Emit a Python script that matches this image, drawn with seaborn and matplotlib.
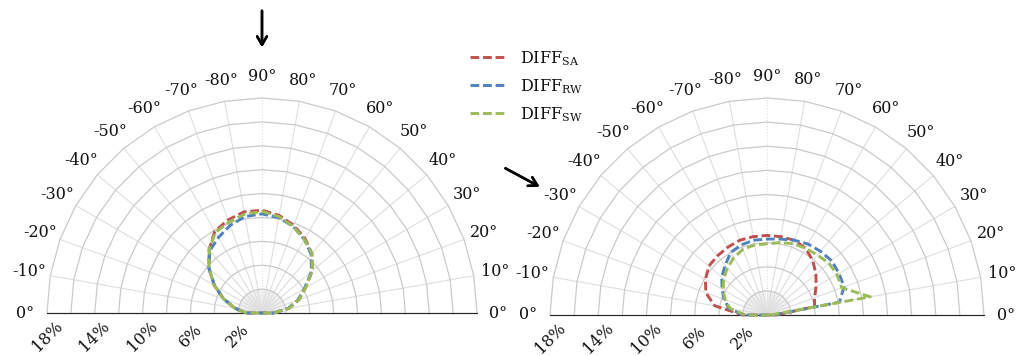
import numpy as np
import pandas as pd
import seaborn as sns
import matplotlib.pyplot as plt

# angle (deg, 0 = right "0°", 180 = left "0°") and percentages
angles = list(range(0, 181, 10))

left_sa = [1.0, 2.3, 3.3, 4.2, 5.5, 6.5, 7.2, 7.8, 8.3, 8.6, 8.6, 8.3, 7.9, 6.9, 5.8, 4.6, 3.4, 2.3, 1.3]
left_rw = [1.0, 2.2, 3.2, 4.1, 5.4, 6.4, 7.1, 7.7, 8.1, 8.3, 8.2, 7.8, 7.3, 6.8, 5.8, 4.6, 3.4, 2.3, 1.3]
left_sw = [1.0, 2.3, 3.3, 4.2, 5.5, 6.5, 7.1, 7.7, 8.2, 8.5, 8.4, 8.1, 7.8, 6.9, 5.8, 4.6, 3.4, 2.3, 1.3]

right_sa = [0.8, 4.0, 4.2, 4.7, 5.3, 5.9, 6.4, 6.6, 6.6, 6.6, 6.6, 6.6, 6.5, 6.4, 6.3, 5.9, 5.4, 4.4, 2.0]
right_rw = [0.5, 6.1, 6.8, 6.9, 7.0, 6.9, 6.8, 6.6, 6.4, 6.3, 6.3, 6.2, 6.0, 5.4, 4.9, 4.3, 3.8, 3.2, 2.0]
right_sw = [0.3, 8.7, 6.6, 6.7, 6.7, 6.5, 6.4, 6.3, 6.1, 5.9, 5.9, 5.8, 5.5, 5.1, 4.7, 4.2, 3.7, 3.1, 1.8]

series_names = ['DIFF$_{\\mathrm{SA}}$', 'DIFF$_{\\mathrm{RW}}$', 'DIFF$_{\\mathrm{SW}}$']
colors = ['#C0504D', '#4F81BD', '#9BBB59']

angle_labels = [f'{a}°' for a in range(0, 90, 10)] + ['90°'] + [f'-{a}°' for a in range(80, 0, -10)] + ['0°']
ring_values = list(range(2, 19, 2))
ring_labels = [2, 6, 10, 14, 18]

sns.set_style('white')
plt.rcParams['font.family'] = ['DejaVu Serif']
plt.rcParams['mathtext.fontset'] = 'dejavuserif'
plt.rcParams['text.color'] = '#111111'

fig = plt.figure(figsize=(10.24, 3.56), dpi=100)
W, H = 1024, 356


def polar_axes(cx, cy_top, R):
    # half-disc wedge sits centred in a square box, so offset by R/2
    cy = H - cy_top
    return fig.add_axes([(cx - R) / W, (cy - R / 2) / H, 2 * R / W, 2 * R / H], projection='polar')


ax1 = polar_axes(262, 313, 215)
ax2 = polar_axes(767, 315, 217)


def setup(ax):
    ax.set_thetamin(0)
    ax.set_thetamax(180)
    ax.grid(False)
    ax.set_xticks([])
    ax.set_yticks([])
    ax.patch.set_alpha(0)
    for sp in ax.spines.values():
        sp.set_visible(False)
    th = np.deg2rad(angles)
    # fine spokes near the centre
    for t in np.arange(0, 180, 3):
        ax.plot([np.deg2rad(t)] * 2, [0, 2], color='#E6E6E6', lw=0.5, zorder=1)
    for t in angles:
        ls = ':' if t == 90 else '-'
        ax.plot([np.deg2rad(t)] * 2, [0, 18], color='#DEDEDE', lw=0.8, ls=ls, zorder=1, clip_on=False)
    for r in ring_values:
        ax.plot(th, [r] * len(th), color='#CACACA', lw=0.9, zorder=1, clip_on=False)
    ax.plot([0, np.pi], [18, 18], color='#CACACA', lw=0.9, zorder=1, clip_on=False)
    for t, lab in zip(angles, angle_labels):
        ax.text(np.deg2rad(t), 19.8, lab, ha='center', va='center', fontsize=11.5)
    for v in ring_labels:
        ax.annotate(f'{v}%', xy=(np.pi, v), xytext=(0, -23), textcoords='offset pixels',
                    rotation=45, ha='center', va='center', fontsize=11.5)


def draw(ax, vals_list):
    rows = []
    for name, vals in zip(series_names, vals_list):
        for a, v in zip(angles + [angles[0]], vals + [vals[0]]):
            rows.append({'theta': np.deg2rad(a), 'r': v, 'series': name})
    df = pd.DataFrame(rows)
    sns.lineplot(data=df, x='theta', y='r', hue='series', palette=colors, ax=ax,
                 sort=False, estimator=None, lw=2.1, linestyle=(0, (3, 1.3)),
                 legend=False, zorder=3, clip_on=False)
    ax.set_xlabel('')
    ax.set_ylabel('')
    ax.set_rlim(0, 18)


setup(ax1)
setup(ax2)
draw(ax1, [left_sa, left_rw, left_sw])
draw(ax2, [right_sa, right_rw, right_sw])

handles = ax1.get_lines()[-3:]
fig.legend(handles, series_names, loc='upper left', bbox_to_anchor=(470 / W, 1 - 49 / H),
           frameon=False, fontsize=11.5, handlelength=2.2, handletextpad=0.9,
           labelspacing=0.58, borderpad=0, borderaxespad=0)

head = '->,head_length=0.6,head_width=0.35'
fig.add_artist(plt.annotate('', xy=(262, H - 50), xycoords='figure pixels',
                            xytext=(262, H - 8), textcoords='figure pixels',
                            arrowprops=dict(arrowstyle=head, lw=1.8, color='black')))
fig.add_artist(plt.annotate('', xy=(542, H - 188), xycoords='figure pixels',
                            xytext=(503, H - 167), textcoords='figure pixels',
                            arrowprops=dict(arrowstyle=head, lw=1.8, color='black')))

fig.savefig('out.png', dpi=100)
